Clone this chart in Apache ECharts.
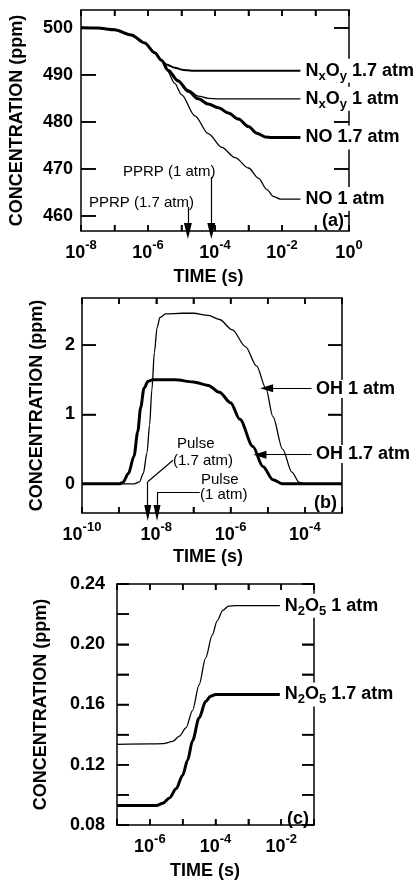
<!DOCTYPE html>
<html>
<head>
<meta charset="utf-8">
<script src="https://cdn.jsdelivr.net/npm/echarts@6/dist/echarts.min.js"></script>
<style>
  html, body { margin: 0; padding: 0; background: #fff; }
  #main { width: 418px; height: 881px; }
</style>
</head>
<body>
<div id="main"></div>
<script>
// time is kept as log10 of seconds

// (a) NO / NxOy, ppm
var aNxOy17T = [-8, -7.5, -7, -6.5, -6.1, -5.8, -5.6, -5.45, -5.2, -4.95, -4.7, -1.45];
var aNxOy17 = [500, 499.95, 499.6, 498.5, 496.8, 494.7, 493.1, 492.2, 491.5, 491.05, 490.9, 490.9];
var aNxOy1T = [-8, -7.5, -7, -6.5, -6.1, -5.8, -5.6, -5.4, -5.1, -4.8, -4.5, -4.2, -3.9, -1.45];
var aNxOy1 = [500, 499.95, 499.6, 498.5, 496.8, 494.7, 493.1, 491.0, 488.9, 486.8, 485.5, 485.0, 484.9, 484.9];
var aNO17T = [-8, -7.5, -7, -6.5, -6.1, -5.8, -5.6, -5.4, -5.1, -4.8, -4.5, -4.2, -3.9, -3.6, -3.3, -3.0, -2.75, -2.5, -2.3, -1.45];
var aNO17 = [500, 499.95, 499.6, 498.5, 496.8, 494.7, 493.1, 491.0, 488.7, 486.5, 484.9, 483.8, 483.0, 481.9, 480.6, 479.0, 477.6, 476.8, 476.7, 476.7];
var aNO1T = [-8, -7.5, -7, -6.5, -6.1, -5.8, -5.6, -5.45, -5.2, -5.0, -4.6, -4.2, -3.8, -3.4, -3.0, -2.7, -2.45, -2.25, -2.05, -1.45];
var aNO1 = [500, 499.95, 499.6, 498.5, 496.8, 494.7, 493.1, 491.2, 488.2, 485.8, 481.3, 477.5, 474.6, 472.4, 470.2, 468.0, 465.6, 464.1, 463.6, 463.6];

// (b) OH, ppm
var bOH1T = [-10, -8.6, -8.45, -8.35, -8.25, -8.18, -8.12, -8.05, -7.98, -7.9, -7.75, -7.3, -7.0, -6.6, -6.3, -5.95, -5.6, -5.3, -5.05, -4.86, -4.6, -4.35, -4.15, -4.0, -3];
var bOH1 = [0, 0, 0.03, 0.15, 0.45, 0.85, 1.35, 1.9, 2.25, 2.4, 2.45, 2.46, 2.46, 2.43, 2.37, 2.22, 1.98, 1.7, 1.38, 0.97, 0.5, 0.17, 0.02, 0, 0];
var bOH17T = [-10, -9.0, -8.9, -8.75, -8.6, -8.5, -8.42, -8.33, -8.22, -8.1, -7.5, -7.0, -6.6, -6.3, -6.0, -5.75, -5.4, -5.13, -4.86, -4.6, -3];
var bOH17 = [0, 0, 0.02, 0.15, 0.4, 0.75, 1.1, 1.38, 1.48, 1.5, 1.5, 1.47, 1.42, 1.32, 1.17, 0.93, 0.54, 0.25, 0.06, 0, 0];

// (c) N2O5, ppm
var cN2O51T = [-7, -6, -5.6, -5.3, -5.1, -4.9, -4.7, -4.5, -4.3, -4.1, -3.95, -3.78, -3.6, -3.4, -2.04];
var cN2O51 = [0.1335, 0.1338, 0.134, 0.1355, 0.139, 0.1445, 0.156, 0.173, 0.191, 0.206, 0.2155, 0.2225, 0.2253, 0.2256, 0.2256];
var cN2O517T = [-7, -5.8, -5.6, -5.4, -5.2, -5.0, -4.85, -4.7, -4.5, -4.3, -4.15, -4.0, -2.04];
var cN2O517 = [0.093, 0.093, 0.0945, 0.098, 0.104, 0.113, 0.123, 0.136, 0.151, 0.162, 0.1655, 0.1667, 0.1667];

// tick labels
var aXLabels = [-8, -6, -4, -2, 0];
var bXLabels = [-10, -8, -6, -4];
var cXLabels = [-6, -4, -2];
var aYLabels = [460, 470, 480, 490, 500];
var bYLabels = [0, 1, 2];
var cYLabels = [0.08, 0.12, 0.16, 0.20, 0.24];
var cYTicks = [0.08, 0.10, 0.12, 0.14, 0.16, 0.18, 0.20, 0.22, 0.24];

var FONT = "'Liberation Sans', Arial, Helvetica, sans-serif";
var BLACK = '#000';

function zip(xs, ys) {
  var out = [];
  for (var i = 0; i < xs.length; i++) out.push([xs[i], ys[i]]);
  return out;
}

function decades(min, max) {
  var out = [];
  for (var e = min; e <= max; e++) out.push(e);
  return out;
}

function xAxes(grid, min, max, labels, gap, shift) {
  var bottom = {
    type: 'value', gridIndex: grid, position: 'bottom',
    min: min, max: max, interval: 1,
    axisLine: { show: true, onZero: false, lineStyle: { color: BLACK, width: 1.5 } },
    axisTick: { show: true, inside: true, length: 6, lineStyle: { color: BLACK, width: 1.5 } },
    splitLine: { show: false },
    axisLabel: {
      customValues: labels, margin: 8,
      formatter: function(v) { return '{b|10}{s|' + v + '}'; },
      rich: {
        b: { fontSize: 18, fontWeight: 'bold', fontFamily: FONT, color: BLACK, lineHeight: 28 },
        s: { fontSize: 13, fontWeight: 'bold', fontFamily: FONT, color: BLACK, lineHeight: 12, verticalAlign: 'top' }
      }
    },
    name: 'TIME (s)', nameLocation: 'middle', nameGap: gap,
    nameTextStyle: { fontSize: 18, fontWeight: 'bold', fontFamily: FONT, color: BLACK, padding: [0, shift, 0, 0] }
  };
  var topAxis = {
    type: 'value', gridIndex: grid, position: 'top',
    min: min, max: max, interval: 1,
    axisLine: { show: true, onZero: false, lineStyle: { color: BLACK, width: 1.5 } },
    axisTick: { show: true, inside: true, length: 6, lineStyle: { color: BLACK, width: 1.5 } },
    splitLine: { show: false },
    axisLabel: { show: false }
  };
  return [bottom, topAxis];
}

function yAxes(grid, min, max, labels, ticks, fmt, tickLen, gap, margin) {
  var left = {
    type: 'value', gridIndex: grid, position: 'left',
    min: min, max: max,
    axisLine: { show: true, onZero: false, lineStyle: { color: BLACK, width: 1.5 } },
    axisTick: { show: true, inside: true, length: tickLen, customValues: ticks, lineStyle: { color: BLACK, width: 1.5 } },
    splitLine: { show: false },
    axisLabel: {
      customValues: labels, formatter: fmt, margin: margin,
      fontSize: 18, fontWeight: 'bold', fontFamily: FONT, color: BLACK
    },
    name: 'CONCENTRATION (ppm)', nameLocation: 'middle', nameGap: gap, nameRotate: 90,
    nameTextStyle: { fontSize: 18, fontWeight: 'bold', fontFamily: FONT, color: BLACK }
  };
  var right = {
    type: 'value', gridIndex: grid, position: 'right',
    min: min, max: max,
    axisLine: { show: true, onZero: false, lineStyle: { color: BLACK, width: 1.5 } },
    axisTick: { show: true, inside: true, length: tickLen, customValues: ticks, lineStyle: { color: BLACK, width: 1.5 } },
    splitLine: { show: false },
    axisLabel: { show: false }
  };
  return [left, right];
}

function endLabel(text) {
  return {
    show: true, formatter: text, distance: 5,
    fontSize: 18, fontWeight: 'bold', fontFamily: FONT, color: BLACK,
    lineHeight: 24, backgroundColor: '#fff', padding: [0, 2, 0, 0],
    rich: {
      sub: { fontSize: 13, fontWeight: 'bold', fontFamily: FONT, color: BLACK, lineHeight: 12, verticalAlign: 'bottom' }
    }
  };
}

function line(xi, yi, data, width, label, extra) {
  var s = {
    type: 'line', xAxisIndex: xi, yAxisIndex: yi,
    data: data, showSymbol: false, smooth: 0.3, smoothMonotone: 'x',
    lineStyle: { color: BLACK, width: width },
    silent: true
  };
  if (label) s.endLabel = endLabel(label);
  for (var k in extra) s[k] = extra[k];
  return s;
}

function arrows(pairs) {
  // each pair: [from, to, withHead, headSize]
  var data = [];
  for (var i = 0; i < pairs.length; i++) {
    var p = pairs[i];
    data.push([
      { coord: p[0], symbol: 'none' },
      { coord: p[1], symbol: p[2] ? 'triangle' : 'none', symbolSize: p[3] || [7, 14] }
    ]);
  }
  return {
    markLine: {
      silent: true, animation: false,
      lineStyle: { color: BLACK, width: 1.2, type: 'solid' },
      label: { show: false },
      data: data
    }
  };
}

var chart = echarts.init(document.getElementById('main'), null, { renderer: 'canvas' });

var xa = xAxes(0, -8, 0, aXLabels, 37, 13);
var xb = xAxes(1, -10, -3, bXLabels, 35, 8);
var xc = xAxes(2, -7, -1, cXLabels, 37, 21);
var ya = yAxes(0, 456.8, 503.8, aYLabels, aYLabels, function(v) { return String(v); }, 15, 55, 8);
var yb = yAxes(1, -0.42, 2.68, bYLabels, bYLabels, function(v) { return String(v); }, 14, 36, 7);
var yc = yAxes(2, 0.08, 0.24, cYLabels, cYTicks, function(v) { return v.toFixed(2); }, 12, 67, 12);

// frame ticks per grid
var frames = [
  { g: 0, xs: decades(-8, 0), ys: aYLabels, xLen: 6, yLen: 15 },
  { g: 1, xs: decades(-10, -3), ys: bYLabels, xLen: 6, yLen: 14 },
  { g: 2, xs: decades(-7, -1), ys: cYTicks, xLen: 6, yLen: 12 }
];

var txt = function(x, y, s, bold, extra) {
  var o = {
    type: 'text', left: x, top: y, z: 100,
    style: { text: s, fill: BLACK, font: (bold ? 'bold 18px ' : '15px ') + FONT }
  };
  for (var k in extra) o.style[k] = extra[k];
  return o;
};

var option = {
  animation: false,
  backgroundColor: '#fff',
  grid: [
    { left: 80, top: 10, width: 269, height: 221 },
    { left: 82, top: 298, width: 260, height: 215 },
    { left: 117, top: 584, width: 197, height: 244 }
  ],
  xAxis: xa.concat(xb, xc),
  yAxis: ya.concat(yb, yc),
  series: [
    line(0, 0, zip(aNxOy17T, aNxOy17), 2, 'N{sub|x}O{sub|y} 1.7 atm',
      arrows([
        [[-4.11, 468.3], [-4.11, 456.8], true, [8, 16]],
        [[-4.81, 461.9], [-4.81, 456.8], true, [8, 16]]
      ])),
    line(0, 0, zip(aNxOy1T, aNxOy1), 1.3, 'N{sub|x}O{sub|y} 1 atm'),
    line(0, 0, zip(aNO17T, aNO17), 3, 'NO 1.7 atm'),
    line(0, 0, zip(aNO1T, aNO1), 1.3, 'NO 1 atm'),
    line(2, 2, zip(bOH1T, bOH1), 1.3, null,
      arrows([
        [[-3.82, 1.38], [-5.03, 1.38], true, [8, 13]],
        [[-3.82, 0.42], [-5.21, 0.42], true, [8, 13]],
        [[-7.55, 0.34], [-8.23, 0.03], false],
        [[-8.23, 0.03], [-8.23, -0.42], true, [7, 16]],
        [[-6.83, -0.125], [-7.98, -0.125], false],
        [[-7.98, -0.125], [-7.98, -0.42], true, [7, 16]]
      ])),
    line(2, 2, zip(bOH17T, bOH17), 3, null),
    line(4, 4, zip(cN2O51T, cN2O51), 1.3, 'N{sub|2}O{sub|5} 1 atm'),
    line(4, 4, zip(cN2O517T, cN2O517), 3, 'N{sub|2}O{sub|5} 1.7 atm')
  ],
  graphic: [
    txt(123, 164, 'PPRP (1 atm)', false),
    txt(89, 195, 'PPRP (1.7 atm)', false),
    txt(322, 212, '(a)', true, { backgroundColor: '#fff' }),
    txt(316, 380, 'OH 1 atm', true, { backgroundColor: '#fff' }),
    txt(316, 445, 'OH 1.7 atm', true, { backgroundColor: '#fff' }),
    txt(177, 436, 'Pulse', false),
    txt(173, 453, '(1.7 atm)', false),
    txt(201, 472, 'Pulse', false),
    txt(200, 487, '(1 atm)', false),
    txt(314, 494, '(b)', true),
    txt(287, 810, '(c)', true)
  ]
};

chart.setOption(option);

function seg(x1, y1, x2, y2) {
  return {
    type: 'line', z: 2, silent: true,
    shape: { x1: x1, y1: y1, x2: x2, y2: y2 },
    style: { stroke: BLACK, lineWidth: 1.5 }
  };
}

// inward frame ticks, placed through each grid's own scales
var ticks = [];
frames.forEach(function(f) {
  var xAx = option.xAxis[2 * f.g], yAx = option.yAxis[2 * f.g];
  var finder = { xAxisIndex: 2 * f.g, yAxisIndex: 2 * f.g };
  f.xs.forEach(function(t) {
    var pb = chart.convertToPixel(finder, [t, yAx.min]);
    var pt = chart.convertToPixel(finder, [t, yAx.max]);
    ticks.push(seg(pb[0], pb[1], pb[0], pb[1] - f.xLen));
    ticks.push(seg(pt[0], pt[1], pt[0], pt[1] + f.xLen));
  });
  f.ys.forEach(function(v) {
    var pl = chart.convertToPixel(finder, [xAx.min, v]);
    var pr = chart.convertToPixel(finder, [xAx.max, v]);
    ticks.push(seg(pl[0], pl[1], pl[0] + f.yLen, pl[1]));
    ticks.push(seg(pr[0], pr[1], pr[0] - f.yLen, pr[1]));
  });
});
option.graphic = option.graphic.concat(ticks);
chart.setOption(option, true);
</script>
</body>
</html>
